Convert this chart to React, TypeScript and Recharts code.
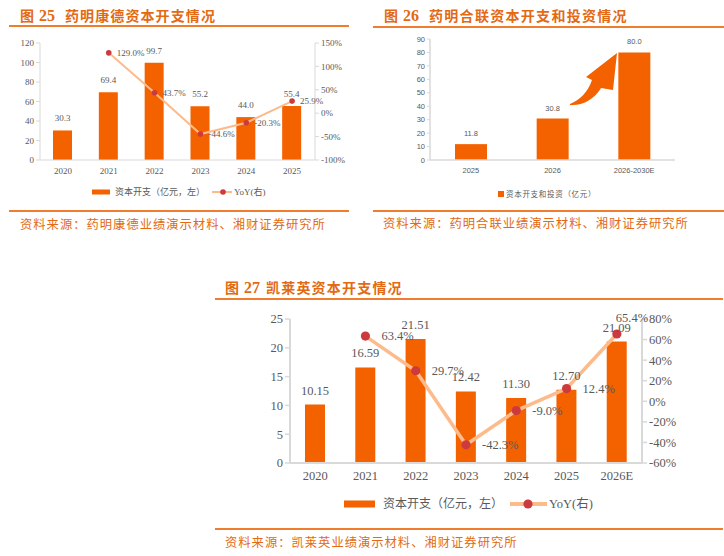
import React from 'react';
import { ComposedChart, BarChart, Bar, Line, XAxis, YAxis, LabelList } from 'recharts';

// ---------- 图25 药明康德 ----------
const wxYears = ['2020', '2021', '2022', '2023', '2024', '2025'];
const wxCapex = [30.3, 69.4, 99.7, 55.2, 44.0, 55.4];
const wxYoy: (number | null)[] = [null, 129.0, 43.7, -44.6, -20.3, 25.9];
const wxLeftTicks = [0, 20, 40, 60, 80, 100, 120];
const wxRightTicks = [-100, -50, 0, 50, 100, 150];

// ---------- 图26 药明合联 ----------
const hlCats = ['2025', '2026', '2026-2030E'];
const hlCapex = [11.8, 30.8, 80.0];
const hlTicks = [0, 10, 20, 30, 40, 50, 60, 70, 80, 90];

// ---------- 图27 凯莱英 ----------
const klyYears = ['2020', '2021', '2022', '2023', '2024', '2025', '2026E'];
const klyCapex = [10.15, 16.59, 21.51, 12.42, 11.3, 12.7, 21.09];
const klyYoy: (number | null)[] = [null, 63.4, 29.7, -42.3, -9.0, 12.4, 65.4];
const klyLeftTicks = [0, 5, 10, 15, 20, 25];
const klyRightTicks = [-60, -40, -20, 0, 20, 40, 60, 80];

const wxData = wxYears.map((year, i) => ({ year, capex: wxCapex[i], yoy: wxYoy[i] }));
const hlData = hlCats.map((cat, i) => ({ cat, capex: hlCapex[i] }));
const klyData = klyYears.map((year, i) => ({ year, capex: klyCapex[i], yoy: klyYoy[i] }));

const ORANGE = '#F46200';
const PEACH = '#FDBB8C';
const RED = '#CD3A3E';
const GRAY = '#595959';
const AXIS = '#D9D9D9';
const TITLE = '#E36A12';
const RULE = '#F07D2E';
const SERIF = '"Liberation Serif", "Times New Roman", "Noto Sans CJK SC", serif';
const CJK = '"Noto Sans CJK SC", sans-serif';
const SANS = '"Liberation Sans", Arial, sans-serif';

const pt = (p: any) => {
  const vb = p.viewBox || {};
  const x = typeof p.x === 'number' ? p.x : vb.x;
  const y = typeof p.y === 'number' ? p.y : vb.y;
  return { x, y };
};

const yoyLabel = (dx: number, size: number, special?: (i: number) => [number, number] | null) => (p: any) => {
  const { value, index } = p;
  if (value === null || value === undefined) return null;
  const { x, y } = pt(p);
  let ox = dx;
  let oy = 0;
  if (special) {
    const s = special(index);
    if (s) {
      ox = s[0];
      oy = s[1];
    }
  }
  return (
    <text x={x + ox} y={y + oy} dy="0.35em" fill={GRAY} fontSize={size} fontFamily={SERIF} textAnchor="start">
      {Number(value).toFixed(1) + '%'}
    </text>
  );
};

const Title = ({ x, y, num, text, g1, g2, pitch }: any) => (
  <div
    style={{
      position: 'absolute',
      left: x,
      top: y - 10,
      height: 20,
      lineHeight: '20px',
      whiteSpace: 'nowrap',
      color: TITLE,
      fontFamily: CJK,
      fontWeight: 700,
      fontSize: 14,
    }}
  >
    <span>图</span>
    <span style={{ fontFamily: SERIF, fontSize: 16, marginLeft: g1, marginRight: g2 }}>{num}</span>
    <span style={{ letterSpacing: pitch - 14 }}>{text}</span>
  </div>
);

const Source = ({ x, y, text }: any) => (
  <div
    style={{
      position: 'absolute',
      left: x,
      top: y - 9,
      height: 18,
      lineHeight: '18px',
      whiteSpace: 'nowrap',
      color: TITLE,
      fontFamily: CJK,
      fontSize: 12.3,
      letterSpacing: 1,
    }}
  >
    {text}
  </div>
);

const Rule = ({ x1, x2, y }: any) => (
  <div style={{ position: 'absolute', left: x1, top: y - 1, width: x2 - x1, height: 2, background: RULE }} />
);

const axisTick = (size: number, family: string) => ({ fontSize: size, fill: GRAY, fontFamily: family });

export default function App() {
  return (
    <div style={{ position: 'absolute', left: 0, top: 0, width: 724, height: 556, background: '#fff', overflow: 'hidden' }}>
      {/* Titles */}
      <Title x={20} y={15} num="25" text="药明康德资本开支情况" g1={5} g2={10} pitch={15.1} />
      <Title x={384} y={15} num="26" text="药明合联资本开支和投资情况" g1={5} g2={10} pitch={15.3} />
      <Title x={225} y={287} num="27" text="凯莱英资本开支情况" g1={5} g2={6} pitch={15.2} />

      <Rule x1={9} x2={349} y={26} />
      <Rule x1={373} x2={724} y={27} />
      <Rule x1={9} x2={349} y={211} />
      <Rule x1={373} x2={724} y={211} />
      <Rule x1={215} x2={723} y={299} />
      <Rule x1={215} x2={723} y={529} />

      <Source x={20} y={224} text="资料来源：药明康德业绩演示材料、湘财证券研究所" />
      <Source x={383} y={223} text="资料来源：药明合联业绩演示材料、湘财证券研究所" />
      <Source x={225} y={542} text="资料来源：凯莱英业绩演示材料、湘财证券研究所" />

      {/* Chart 25 */}
      <div style={{ position: 'absolute', left: 0, top: 0 }}>
        <ComposedChart width={362} height={185} data={wxData} margin={{ top: 43, right: 0, bottom: 0, left: 0 }}>
          <XAxis
            dataKey="year"
            height={25}
            interval={0}
            axisLine={{ stroke: AXIS }}
            tickLine={false}
            tick={axisTick(9, SERIF)}
          />
          <YAxis
            yAxisId="l"
            width={40}
            domain={[0, 120]}
            ticks={wxLeftTicks}
            interval={0}
            axisLine={{ stroke: AXIS }}
            tickLine={{ stroke: AXIS }}
            tickSize={4}
            tick={axisTick(9, SERIF)}
          />
          <YAxis
            yAxisId="r"
            orientation="right"
            width={47}
            domain={[-100, 150]}
            ticks={wxRightTicks}
            interval={0}
            tickFormatter={(v: number) => v + '%'}
            axisLine={{ stroke: AXIS }}
            tickLine={{ stroke: AXIS }}
            tickSize={4}
            tick={axisTick(9, SERIF)}
          />
          <Bar yAxisId="l" dataKey="capex" fill={ORANGE} barSize={19} isAnimationActive={false}>
            <LabelList
              dataKey="capex"
              position="top"
              offset={9}
              formatter={(v: any) => Number(v).toFixed(1)}
              fill={GRAY}
              fontSize={9}
              fontFamily={SERIF}
            />
          </Bar>
          <Line
            yAxisId="r"
            dataKey="yoy"
            stroke={PEACH}
            strokeWidth={2}
            dot={{ r: 2.8, fill: RED, stroke: RED, strokeWidth: 0 }}
            activeDot={false}
            isAnimationActive={false}
          >
            <LabelList dataKey="yoy" content={yoyLabel(8, 9)} />
          </Line>
        </ComposedChart>
      </div>

      {/* Chart 26 */}
      <div style={{ position: 'absolute', left: 362, top: 0 }}>
        <BarChart width={362} height={185} data={hlData} margin={{ top: 39, right: 49, bottom: 0, left: 38 }}>
          <XAxis
            xAxisId="grid"
            type="number"
            domain={[0, 3]}
            allowDataOverflow
            ticks={[0, 1, 2, 3]}
            interval={0}
            height={0}
            axisLine={false}
            tick={false}
            tickLine={{ stroke: AXIS }}
            tickSize={4}
          />
          <XAxis
            dataKey="cat"
            height={25}
            interval={0}
            axisLine={{ stroke: AXIS, strokeWidth: 1.5 }}
            tickLine={false}
            tick={axisTick(7.5, SANS)}
          />
          <YAxis
            width={30}
            domain={[0, 90]}
            ticks={hlTicks}
            interval={0}
            axisLine={{ stroke: AXIS, strokeWidth: 1.5 }}
            tickLine={{ stroke: AXIS }}
            tickSize={3}
            tick={axisTick(7.5, SANS)}
          />
          <Bar dataKey="capex" fill={ORANGE} barSize={32} isAnimationActive={false}>
            <LabelList
              dataKey="capex"
              position="top"
              offset={8}
              formatter={(v: any) => Number(v).toFixed(1)}
              fill={GRAY}
              fontSize={7.5}
              fontFamily={SANS}
            />
          </Bar>
        </BarChart>
      </div>

      {/* Chart 27 */}
      <div style={{ position: 'absolute', left: 210, top: 270 }}>
        <ComposedChart width={514} height={230} data={klyData} margin={{ top: 49, right: 32, bottom: 7, left: 40 }}>
          <XAxis
            xAxisId="grid"
            type="number"
            domain={[0, 7]}
            allowDataOverflow
            ticks={[0, 1, 2, 3, 4, 5, 6, 7]}
            interval={0}
            height={0}
            axisLine={false}
            tick={false}
            tickLine={{ stroke: AXIS, strokeWidth: 1.5 }}
            tickSize={6}
          />
          <XAxis
            dataKey="year"
            height={30}
            interval={0}
            axisLine={{ stroke: AXIS, strokeWidth: 2 }}
            tickLine={false}
            tick={axisTick(12.5, SERIF)}
          />
          <YAxis
            yAxisId="l"
            width={40}
            domain={[0, 25]}
            ticks={klyLeftTicks}
            interval={0}
            axisLine={{ stroke: AXIS, strokeWidth: 2 }}
            tickLine={{ stroke: AXIS, strokeWidth: 1.5 }}
            tickSize={5}
            tick={axisTick(12.5, SERIF)}
          />
          <YAxis
            yAxisId="r"
            orientation="right"
            width={50}
            domain={[-60, 80]}
            ticks={klyRightTicks}
            interval={0}
            tickFormatter={(v: number) => v + '%'}
            axisLine={{ stroke: AXIS, strokeWidth: 2 }}
            tickLine={{ stroke: AXIS, strokeWidth: 1.5 }}
            tickSize={5}
            tick={axisTick(12.5, SERIF)}
          />
          <Bar yAxisId="l" dataKey="capex" fill={ORANGE} barSize={20} isAnimationActive={false}>
            <LabelList
              dataKey="capex"
              position="top"
              offset={10}
              formatter={(v: any) => Number(v).toFixed(2)}
              fill={GRAY}
              fontSize={12.5}
              fontFamily={SERIF}
            />
          </Bar>
          <Line
            yAxisId="r"
            dataKey="yoy"
            stroke={PEACH}
            strokeWidth={3.5}
            dot={{ r: 4.6, fill: RED, stroke: RED, strokeWidth: 0 }}
            activeDot={false}
            isAnimationActive={false}
          >
            <LabelList dataKey="yoy" content={yoyLabel(16, 12.5, (i) => (i === 6 ? [-1, -16] : null))} />
          </Line>
        </ComposedChart>
      </div>

      {/* Legends and annotation arrow */}
      <svg width={724} height={556} style={{ position: 'absolute', left: 0, top: 0, pointerEvents: 'none' }}>
        {/* legend 25 */}
        <rect x={92} y={189.5} width={18} height={5} fill={ORANGE} />
        <text x={115} y={192} dy="0.35em" fontSize={9} fill={GRAY} fontFamily={CJK}>
          资本开支（亿元，左）
        </text>
        <line x1={212} x2={232} y1={192} y2={192} stroke={PEACH} strokeWidth={2} />
        <circle cx={223} cy={192} r={2.8} fill={RED} />
        <text x={234} y={192} dy="0.35em" fontSize={9} fill={GRAY} fontFamily={SERIF}>
          YoY(右)
        </text>

        {/* legend 26 */}
        <rect x={498} y={191} width={6} height={6} fill={ORANGE} />
        <text x={506} y={194} dy="0.35em" fontSize={7.5} letterSpacing={0.7} fill={GRAY} fontFamily={CJK}>
          资本开支和投资（亿元）
        </text>

        {/* legend 27 */}
        <rect x={344} y={500.5} width={31} height={7} fill={ORANGE} />
        <text x={383} y={504} dy="0.35em" fontSize={12} fill={GRAY} fontFamily={CJK}>
          资本开支（亿元，左）
        </text>
        <line x1={510} x2={547} y1={504} y2={504} stroke={PEACH} strokeWidth={4} />
        <circle cx={528} cy={504} r={4.6} fill={RED} />
        <text x={549} y={504} dy="0.35em" fontSize={12.5} fill={GRAY} fontFamily={SERIF}>
          YoY(右)
        </text>

        {/* growth arrow in chart 26 */}
        <path
          d="M570,104 C580,100 588,92 592,80 L586,77 L617,53 L613,90 L601,88 C595,98 584,106 570,105 Z"
          fill={ORANGE}
        />
      </svg>
    </div>
  );
}
